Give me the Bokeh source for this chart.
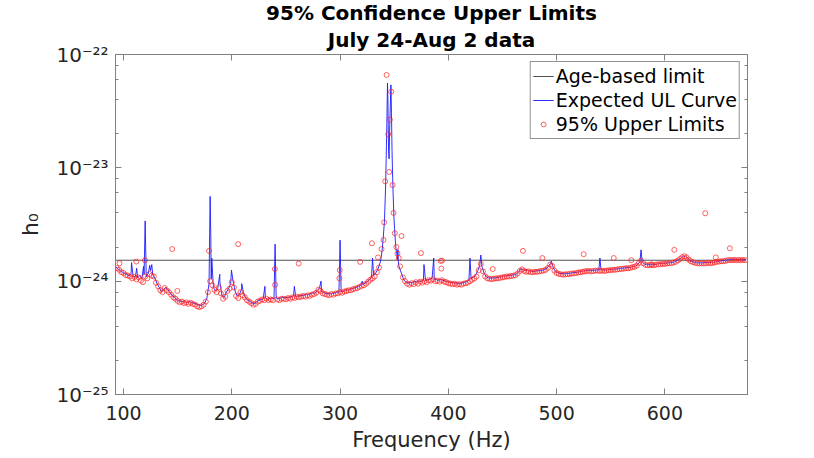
import numpy as np
from bokeh.plotting import figure
from bokeh.models import (Range1d, FixedTicker, LogAxis, LinearAxis, LogTicker,
                          Title, Legend, LegendItem, CustomJSTickFormatter)
from bokeh.embed import file_html
from bokeh.resources import INLINE

# ---------------- data ----------------
title_line1 = "95% Confidence Upper Limits"
title_line2 = "July 24-Aug 2 data"
x_label = "Frequency (Hz)"
y_label = "h\u2080"
x_ticks = [100, 200, 300, 400, 500, 600]
y_decades = [-25, -24, -23, -22]
unit = 1e-24          # all values below are in units of 1e-24
age_limit = 1.53

# Expected UL curve (blue), 2 Hz bins below and above the 345 Hz violin peak
exp_f_lo = list(range(93, 338, 2))
exp_v_lo = [1.33, 1.28, 1.24, 1.20, 1.17, 1.15, 1.11, 1.16, 1.09, 1.10,
            1.07, 1.12, 1.05, 1.15, 1.09, 1.18, 1.24, 1.14, 1.06, 0.95,
            0.88, 0.81, 0.85, 0.88, 0.84, 0.79, 0.75, 0.72, 0.69, 0.67,
            0.665, 0.66, 0.655, 0.65, 0.66, 0.645, 0.64, 0.63, 0.62, 0.61,
            0.62, 0.64, 0.71, 0.95, 1.05, 0.88, 0.82, 0.86, 0.98, 0.74,
            0.72, 0.80, 0.86, 0.95, 1.02, 0.82, 0.74, 0.76, 0.85, 0.77,
            0.71, 0.68, 0.66, 0.64, 0.63, 0.66, 0.68, 0.69, 0.70, 0.72,
            0.69, 0.70, 0.71, 0.70, 0.71, 0.70, 0.71, 0.72, 0.71, 0.72,
            0.72, 0.73, 0.74, 0.73, 0.74, 0.74, 0.75, 0.75, 0.77, 0.76,
            0.78, 0.79, 0.78, 0.83, 0.87, 0.81, 0.79, 0.78, 0.77, 0.78,
            0.78, 0.79, 0.80, 0.80, 0.81, 0.81, 0.83, 0.84, 0.84, 0.86,
            0.87, 0.88, 0.90, 0.92, 0.93, 0.96, 0.99, 1.03, 1.07, 1.12,
            1.18, 1.28, 1.45]
exp_f_peak = [338, 339, 340, 341, 342, 342.6, 343.2, 343.8, 344.2, 344.8,
              345.3, 345.8, 346.4, 347.0, 347.5, 348.0, 348.6, 349.2, 349.8,
              350.4, 351.0, 351.6, 352.4, 353.0, 353.4, 354.0, 355.0]
exp_v_peak = [1.62, 1.95, 2.5, 3.4, 6.5, 12, 24, 56, 40, 14,
              12, 22, 35, 54, 30, 14, 8, 5.2, 3.6,
              2.9, 2.3, 1.95, 1.75, 1.55, 1.9, 1.4, 1.3]
exp_f_hi = list(range(357, 676, 2))
exp_v_hi = [1.15, 1.02, 0.98, 0.96, 0.98, 0.97, 1.00, 0.98, 1.01, 0.99,
            1.02, 1.01, 1.03, 1.04, 1.06, 1.04, 1.03, 1.02, 1.04, 1.02,
            1.00, 0.99, 0.98, 0.97, 0.97, 0.96, 0.96, 0.95, 0.97, 0.98,
            0.99, 1.02, 1.05, 1.08, 1.12, 1.22, 1.38, 1.35, 1.18, 1.09,
            1.07, 1.06, 1.07, 1.07, 1.08, 1.09, 1.09, 1.11, 1.11, 1.12,
            1.13, 1.13, 1.14, 1.16, 1.21, 1.29, 1.26, 1.24, 1.25, 1.23,
            1.22, 1.22, 1.23, 1.24, 1.24, 1.25, 1.27, 1.30, 1.38, 1.45,
            1.31, 1.22, 1.19, 1.17, 1.17, 1.16, 1.17, 1.17, 1.18, 1.19,
            1.19, 1.20, 1.21, 1.22, 1.23, 1.24, 1.25, 1.25, 1.24, 1.25,
            1.26, 1.25, 1.26, 1.26, 1.25, 1.26, 1.27, 1.27, 1.28, 1.28,
            1.29, 1.30, 1.30, 1.31, 1.32, 1.32, 1.33, 1.35, 1.36, 1.40,
            1.50, 1.48, 1.42, 1.40, 1.40, 1.41, 1.41, 1.40, 1.42, 1.43,
            1.43, 1.44, 1.44, 1.45, 1.46, 1.46, 1.48, 1.51, 1.55, 1.60,
            1.66, 1.66, 1.60, 1.53, 1.49, 1.47, 1.46, 1.45, 1.45, 1.45,
            1.46, 1.46, 1.46, 1.47, 1.47, 1.48, 1.50, 1.51, 1.52, 1.52,
            1.53, 1.55, 1.56, 1.55, 1.56, 1.55, 1.55, 1.56, 1.55, 1.55]
# narrow instrumental lines in the expected curve
exp_f_lines = [107.4, 112.2, 118.5, 120.0, 124.2, 126.1, 180.0, 180.6, 181.5,
               188.9, 199.7, 209.2, 230.6, 240.0, 257.8, 282.4, 300.0, 320.5,
               330.0, 377.5, 386.5, 420.0, 430.0, 495.0, 540.0, 578.0]
exp_v_lines = [1.46, 1.3, 1.35, 3.4, 1.38, 1.4, 5.6, 2.5, 1.6,
               1.15, 1.25, 0.95, 0.9, 2.12, 0.9, 1.0, 2.3, 1.0,
               1.6, 1.4, 1.6, 1.6, 1.7, 1.5, 1.6, 1.89]

# 95% upper limits (red circles)
ul_f_lo = list(range(94, 337, 2))
ul_v_lo = [1.30, 1.26, 1.20, 1.18, 1.13, 1.12, 1.10, 1.06, 1.09, 1.04,
           1.08, 1.01, 0.98, 1.10, 1.06, 1.16, 1.12, 1.10, 0.97, 0.90,
           0.83, 0.80, 0.87, 0.83, 0.80, 0.76, 0.72, 0.70, 0.67, 0.65,
           0.66, 0.64, 0.65, 0.63, 0.645, 0.63, 0.62, 0.60, 0.59, 0.60,
           0.62, 0.66, 0.80, 1.00, 0.92, 0.84, 0.80, 0.88, 0.78, 0.70,
           0.73, 0.82, 0.86, 0.98, 0.88, 0.74, 0.71, 0.80, 0.75, 0.72,
           0.68, 0.66, 0.64, 0.62, 0.63, 0.66, 0.67, 0.69, 0.68, 0.70,
           0.68, 0.69, 0.68, 0.93, 0.69, 0.68, 0.70, 0.70, 0.69, 0.71,
           0.70, 0.72, 0.71, 0.73, 0.72, 0.73, 0.74, 0.73, 0.75, 0.74,
           0.76, 0.77, 0.79, 0.84, 0.82, 0.78, 0.77, 0.76, 0.75, 0.77,
           0.76, 0.78, 0.78, 0.80, 0.79, 0.81, 0.82, 0.83, 0.83, 0.85,
           0.86, 0.87, 0.89, 0.91, 0.92, 0.95, 0.99, 1.03, 1.06, 1.10,
           1.20, 1.32]
ul_f_peak = [335.0, 338.3, 340.1, 340.7, 341.7, 343.0, 344.5, 345.4, 346.0,
             347.3, 348.5, 349.4, 350.6, 352.0, 353.0, 354.2, 355.5, 356.8]
ul_v_peak = [1.62, 1.92, 2.31, 3.3, 7.6, 66, 19.8, 9.2, 26.6,
             47, 7.05, 4.0, 2.65, 2.0, 1.75, 1.6, 1.35, 2.5]
ul_f_hi = list(range(358, 675, 2))
ul_v_hi = [1.08, 1.00, 0.95, 0.93, 0.96, 0.94, 0.98, 0.95, 0.99, 0.97,
           1.00, 0.98, 1.02, 1.01, 1.04, 1.00, 1.01, 0.99, 1.02, 0.99,
           0.98, 0.96, 0.95, 0.94, 0.95, 0.93, 0.94, 0.93, 0.95, 0.96,
           0.97, 1.00, 1.03, 1.06, 1.10, 1.25, 1.42, 1.22, 1.10, 1.06,
           1.05, 1.04, 1.05, 1.06, 1.06, 1.07, 1.08, 1.09, 1.10, 1.10,
           1.11, 1.12, 1.13, 1.17, 1.23, 1.27, 1.23, 1.21, 1.22, 1.20,
           1.20, 1.21, 1.21, 1.22, 1.23, 1.24, 1.26, 1.31, 1.40, 1.36,
           1.24, 1.18, 1.16, 1.15, 1.14, 1.15, 1.15, 1.16, 1.17, 1.17,
           1.18, 1.19, 1.20, 1.21, 1.22, 1.23, 1.23, 1.22, 1.23, 1.24,
           1.24, 1.23, 1.24, 1.23, 1.24, 1.25, 1.25, 1.26, 1.26, 1.27,
           1.28, 1.28, 1.29, 1.30, 1.30, 1.31, 1.33, 1.34, 1.37, 1.45,
           1.52, 1.44, 1.39, 1.38, 1.39, 1.39, 1.38, 1.40, 1.41, 1.41,
           1.42, 1.42, 1.43, 1.44, 1.44, 1.46, 1.48, 1.52, 1.57, 1.63,
           1.66, 1.62, 1.55, 1.50, 1.47, 1.45, 1.44, 1.43, 1.44, 1.43,
           1.44, 1.45, 1.44, 1.45, 1.46, 1.48, 1.49, 1.50, 1.50, 1.51,
           1.53, 1.54, 1.53, 1.54, 1.53, 1.54, 1.53, 1.54, 1.53]
ul_f_out = [96.3, 111.8, 119.8, 145.0, 149.7, 179.0, 205.9, 239.8, 261.8,
            299.4, 299.7, 318.5, 329.4, 374.7, 393.0, 394.2, 393.5, 441.0,
            468.9, 486.8, 525.0, 552.8, 569.0, 587.7, 608.7, 637.3, 647.0, 660.0]
ul_v_out = [1.44, 1.49, 1.53, 1.92, 0.82, 1.85, 2.12, 1.28, 1.43,
            1.06, 1.25, 1.48, 2.16, 1.77, 1.51, 1.52, 1.29, 1.28,
            1.85, 1.6, 1.73, 1.6, 1.53, 1.41, 1.89, 3.97, 1.62, 1.95]

# ---------------- assemble ----------------
exp_pairs = sorted(zip(exp_f_lo + exp_f_peak + exp_f_hi + exp_f_lines,
                       exp_v_lo + exp_v_peak + exp_v_hi + exp_v_lines))
exp_f = [a for a, b in exp_pairs]
exp_v = [b * unit for a, b in exp_pairs]
ul_f = ul_f_lo + ul_f_peak + ul_f_hi + ul_f_out
ul_v = [v * unit for v in ul_v_lo + ul_v_peak + ul_v_hi + ul_v_out]

X0, X1 = 92.6, 676.3
Y0, Y1 = 10.0 ** y_decades[0], 10.0 ** y_decades[-1]
FONT = "DejaVu Sans"
TXT = "#262626"
BOX = "#808080"

p = figure(width=814, height=458, output_backend="svg", toolbar_location=None,
           title=None, y_axis_type="log",
           x_range=Range1d(X0, X1), y_range=Range1d(Y0, Y1),
           min_border_left=115, min_border_right=67, min_border_top=53,
           min_border_bottom=64)
p.xgrid.visible = False
p.ygrid.visible = False
p.outline_line_color = BOX
p.background_fill_color = "white"
p.border_fill_color = "white"

age_r = p.line([min(exp_f), max(exp_f)], [age_limit * unit] * 2,
               line_color="#505050", line_width=1)
exp_r = p.line(exp_f, exp_v, line_color="#1a1aff", line_width=0.9)
ul_r = p.scatter(ul_f, ul_v, marker="circle", size=5, fill_color=None,
                 line_color="#ff2020", line_width=0.7)

# bottom axis
xa = p.xaxis[0]
xa.ticker = FixedTicker(ticks=x_ticks)
xa.major_label_text_font = FONT
xa.major_label_text_font_size = "19px"
xa.major_label_text_color = TXT
xa.major_label_standoff = 11
xa.axis_label = x_label
xa.axis_label_text_font = FONT
xa.axis_label_text_font_size = "21px"
xa.axis_label_text_font_style = "normal"
xa.axis_label_text_color = TXT
xa.axis_label_standoff = 5

# left axis: 10 with superscript exponent
sup_js = """
const sup = {"-": "\\u207B", "0": "\\u2070", "1": "\\u00B9", "2": "\\u00B2",
             "3": "\\u00B3", "4": "\\u2074", "5": "\\u2075", "6": "\\u2076",
             "7": "\\u2077", "8": "\\u2078", "9": "\\u2079"};
const e = Math.round(Math.log10(tick));
return "10" + String(e).split("").map(c => sup[c]).join("");
"""
ya = p.yaxis[0]
ya.ticker = LogTicker(desired_num_ticks=4)
ya.formatter = CustomJSTickFormatter(code=sup_js)
ya.major_label_text_font = FONT
ya.major_label_text_font_size = "20px"
ya.major_label_text_color = TXT
ya.major_label_standoff = 7
ya.axis_label = y_label
ya.axis_label_text_font = FONT
ya.axis_label_text_font_size = "22px"
ya.axis_label_text_font_style = "normal"
ya.axis_label_text_color = TXT
ya.axis_label_standoff = 10

p.add_layout(LinearAxis(ticker=FixedTicker(ticks=x_ticks),
                        major_label_text_font_size="1px",
                        major_label_text_color=None, major_label_standoff=0),
             "above")
p.add_layout(LogAxis(ticker=LogTicker(desired_num_ticks=4),
                     major_label_text_font_size="1px",
                     major_label_text_color=None, major_label_standoff=0),
             "right")
for ax in p.axis:
    ax.axis_line_color = BOX
    ax.major_tick_line_color = BOX
    ax.minor_tick_line_color = BOX
    ax.major_tick_in = 6
    ax.major_tick_out = 0
    ax.minor_tick_in = 3
    ax.minor_tick_out = 0

# two-line title (first added sits closest to the plot)
for txt in (title_line2, title_line1):
    p.add_layout(Title(text=txt, align="center", vertical_align="top",
                       text_font=FONT, text_font_size="20px",
                       text_font_style="bold", text_color="black",
                       standoff=1, offset=0), "above")

legend = Legend(items=[LegendItem(label="Age-based limit", renderers=[age_r]),
                       LegendItem(label="Expected UL Curve", renderers=[exp_r]),
                       LegendItem(label="95% Upper Limits", renderers=[ul_r])],
                location="top_right")
legend.margin = 7
legend.padding = 2
legend.spacing = 0
legend.label_standoff = 2
legend.glyph_width = 21
legend.glyph_height = 12
legend.label_height = 24
legend.label_text_font = FONT
legend.label_text_font_size = "19px"
legend.label_text_color = "black"
legend.border_line_color = "#262626"
legend.border_line_width = 1
legend.background_fill_alpha = 1.0
p.add_layout(legend)

open("out.html", "w").write(file_html(p, INLINE))
